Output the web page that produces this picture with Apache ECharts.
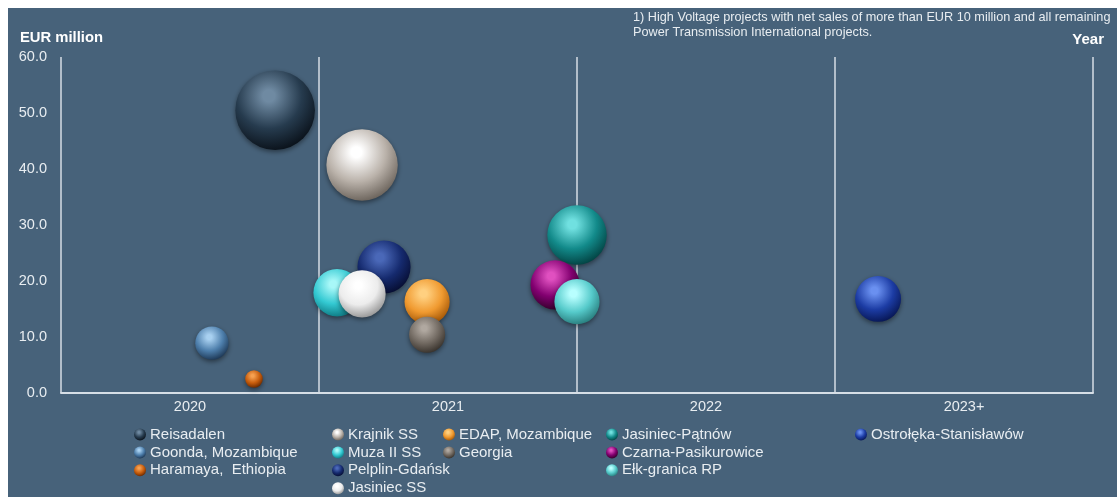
<!DOCTYPE html>
<html>
<head>
<meta charset="utf-8">
<script src="https://cdn.jsdelivr.net/npm/echarts@6/dist/echarts.min.js"></script>
<style>
html,body{margin:0;padding:0;background:#ffffff;}
#chart{width:1117px;height:497px;}
</style>
</head>
<body>
<div id="chart"></div>
<script>
// ---- data ----
const years = ['2020', '2021', '2022', '2023+'];
const yTicks = [0, 10, 20, 30, 40, 50, 60];
const projects = ['Reisadalen', 'Goonda, Mozambique', 'Haramaya,  Ethiopia', 'Krajnik SS', 'Muza II SS', 'Pelplin-Gdańsk', 'Jasiniec SS', 'EDAP, Mozambique', 'Georgia', 'Jasiniec-Pątnów', 'Czarna-Pasikurowice', 'Ełk-granica RP', 'Ostrołęka-Stanisławów'];
// horizontal position along the year axis (0 = start of 2020, 1 = start of 2021 ...)
const timing = [0.83, 0.585, 0.748, 1.167, 1.07, 1.252, 1.167, 1.419, 1.419, 2.0, 1.915, 2.0, 3.167];
// net sales, EUR million
const sales = [50.5, 8.9, 2.5, 40.7, 17.9, 22.5, 17.7, 16.3, 10.4, 28.2, 19.3, 16.3, 16.8];
// sphere shading: [highlight, base, shade]
const palette = [
  ['#6f8aa2', '#263b4e', '#0b131c'],
  ['#a8d0f0', '#4d7eab', '#1f3a58'],
  ['#f6a050', '#c65c0c', '#6a2a00'],
  ['#ffffff', '#bab2aa', '#6e665e'],
  ['#a8f8f8', '#33c9d2', '#0f7d86'],
  ['#4a68b8', '#152a6e', '#070f35'],
  ['#ffffff', '#ececec', '#9a9a9a'],
  ['#ffd080', '#f09a30', '#a85a08'],
  ['#b0a8a0', '#726a62', '#3a342e'],
  ['#70e0e0', '#128a8a', '#034545'],
  ['#e050c0', '#820070', '#35002c'],
  ['#b8ffff', '#55caca', '#2a8080'],
  ['#6a90f0', '#1c3ca4', '#081858']
];
const legendColumns = [
  ['Reisadalen', 'Goonda, Mozambique', 'Haramaya,  Ethiopia'],
  ['Krajnik SS', 'Muza II SS', 'Pelplin-Gdańsk', 'Jasiniec SS'],
  ['EDAP, Mozambique', 'Georgia'],
  ['Jasiniec-Pątnów', 'Czarna-Pasikurowice', 'Ełk-granica RP'],
  ['Ostrołęka-Stanisławów']
];
const legendLefts = [134, 332, 443, 606, 855];

// ---- chart ----
const FONT = '"Liberation Sans", Arial, sans-serif';
const TXT = '#e8edf1';
function sphere(c) {
  return {
    type: 'radial', x: 0.42, y: 0.32, r: 0.75,
    colorStops: [
      {offset: 0, color: c[0]},
      {offset: 0.1, color: c[0]},
      {offset: 0.55, color: c[1]},
      {offset: 0.92, color: c[2]},
      {offset: 1, color: c[2]}
    ]
  };
}
const series = projects.map((name, i) => ({
  name: name,
  type: 'scatter',
  xAxisIndex: 0,
  data: [[timing[i], sales[i]]],
  symbolSize: function (v) { return 11.2 * Math.sqrt(v[1]); },
  itemStyle: {
    color: sphere(palette[i]),
    opacity: 1,
    shadowBlur: 5,
    shadowOffsetY: 2,
    shadowColor: 'rgba(0,0,0,0.45)'
  },
  emphasis: {disabled: true}
}));

const legends = legendColumns.map((col, k) => ({
  orient: 'vertical',
  left: legendLefts[k],
  top: 427,
  height: 70,
  padding: 0,
  itemWidth: 12,
  itemHeight: 12,
  itemGap: 2.9,
  icon: 'circle',
  selectedMode: false,
  data: col,
  textStyle: {color: TXT, fontSize: 15, fontFamily: FONT, padding: [0, 0, 0, -1]}
}));

const chart = echarts.init(document.getElementById('chart'), null, {renderer: 'canvas'});
chart.setOption({
  backgroundColor: '#ffffff',
  animation: false,
  textStyle: {fontFamily: FONT},
  grid: {left: 61, right: 24, top: 57, bottom: 104},
  graphic: [
    {type: 'rect', z: -100, silent: true, shape: {x: 8, y: 8, width: 1109, height: 489}, style: {fill: '#47627a'}},
    {type: 'text', left: 20, top: 30, style: {text: 'EUR million', fill: '#ffffff', font: 'bold 14.8px ' + FONT}},
    {type: 'text', right: 13, top: 32, style: {text: 'Year', fill: '#ffffff', font: 'bold 15px ' + FONT}},
    {type: 'text', left: 633, top: 10, style: {text: '1) High Voltage projects with net sales of more than EUR 10 million and all remaining\nPower Transmission International projects.', fill: TXT, font: '12.7px ' + FONT, lineHeight: 15}}
  ],
  xAxis: [
    {
      type: 'value', min: 0, max: years.length, interval: 1,
      axisLine: {show: true, lineStyle: {color: '#d6dee6', width: 2}},
      axisTick: {show: false},
      axisLabel: {show: false},
      splitLine: {show: true, lineStyle: {color: '#d6dee6', width: 1.5}}
    },
    {
      type: 'category', data: years, boundaryGap: true, position: 'bottom',
      axisLine: {show: false}, axisTick: {show: false},
      axisLabel: {color: TXT, fontSize: 14.5, fontFamily: FONT, margin: 6},
      splitLine: {show: false}
    }
  ],
  yAxis: {
    type: 'value', min: yTicks[0], max: yTicks[yTicks.length - 1], interval: 10,
    axisLine: {show: false}, axisTick: {show: false},
    splitLine: {show: false},
    axisLabel: {color: TXT, fontSize: 14.5, fontFamily: FONT, margin: 14, formatter: v => v.toFixed(1)}
  },
  legend: legends,
  series: series
});
</script>
</body>
</html>
